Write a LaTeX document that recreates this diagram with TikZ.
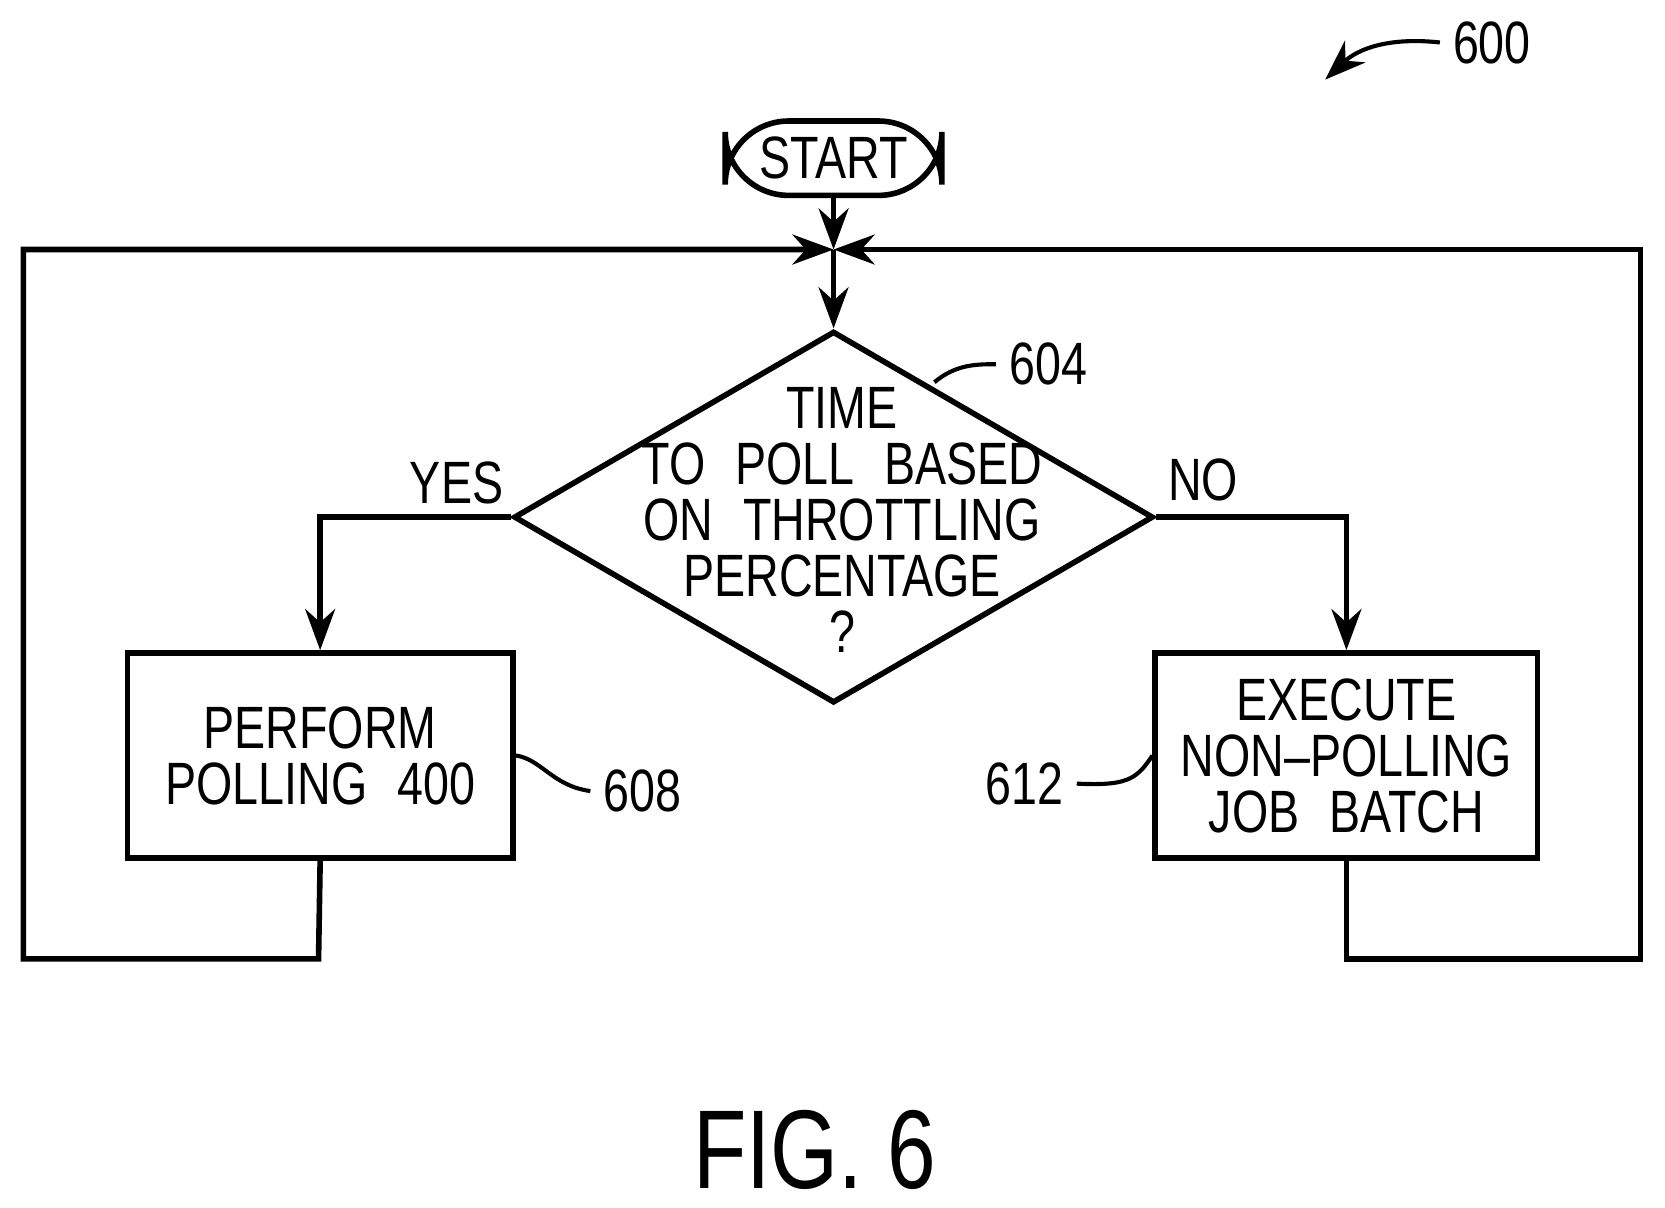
\documentclass[tikz,border=0pt]{standalone}
\usepackage{fontspec}
\setmainfont{Liberation Sans}[FakeStretch=0.78]
\usetikzlibrary{shapes.geometric,arrows.meta}
\begin{document}
\begin{tikzpicture}[x=0.01cm,y=-0.01cm]
\tikzstyle{term} = [rectangle, rounded corners=17pt, minimum width=20.4mm, minimum height=7mm, draw=black, line width=1.5pt, font=\fontsize{16}{18}\selectfont]
\tikzstyle{decide} = [diamond, minimum width=60.2mm, minimum height=35mm, inner sep=0pt, draw=black, line width=1.5pt]
\tikzstyle{proc} = [rectangle, minimum height=19.3mm, draw=black, line width=1.5pt, align=center, font=\fontsize{16}{15}\selectfont]
\tikzstyle{lbl} = [font=\fontsize{16}{18}\selectfont]
\tikzstyle{arrow} = [line width=1.5pt, -{Stealth[length=11pt,width=8pt]}]
\tikzstyle{lead} = [line width=1.1pt]

    \useasboundingbox (0,0) rectangle (1568,1137);

    \node (start) at (785,149) [term] {START};
    \coordinate (join) at (785,235);
    \node (poll) at (785,487) [decide] {};
    \node (pollt) at (793,490) [align=center, font=\fontsize{16}{15}\selectfont] {TIME\\TO\enspace POLL\enspace BASED\\ON\enspace THROTTLING\\PERCENTAGE\\?};
    \node (perform) at (301.5,711.5) [proc, minimum width=36.3mm] {PERFORM\\POLLING\enspace 400};
    \node (exec) at (1268,711.5) [proc, minimum width=36mm] {EXECUTE\\NON--POLLING\\JOB\enspace BATCH};

    \node (yes) at (430,455) [lbl] {YES};
    \node (no) at (1133,452) [lbl] {NO};
    \node (n604) at (987,343) [lbl] {604};
    \node (n608) at (605,745) [lbl] {608};
    \node (n612) at (965,738) [lbl] {612};
    \node (n600) at (1405,40) [lbl] {600};
    \node (fig) at (767,1083) [font=\fontsize{30}{32}\selectfont] {FIG. 6};

    \draw [arrow] (start) -- (join);
    \draw [arrow] (join) -- (poll.north);
    \draw [arrow] (poll.west) -| (perform.north);
    \draw [arrow] (poll.east) -| (exec.north);
    \draw [arrow] (perform.south) -- (300,903) -- (22,903) -- (22,235) -- (join);
    \draw [arrow] (exec.south) -- (1268,903) -- (1545,903) -- (1545,235) -- (join);

    \draw [lead] (880,360) .. controls (900,343) and (920,343) .. (n604.west);
    \draw [lead] (perform.east) .. controls (510,715) and (520,740) .. (n608.west);
    \draw [lead] (n612.east) .. controls (1060,740) and (1070,735) .. (exec.west);
    \draw [lead, -{Stealth[length=11pt,width=8pt]}] (n600.west) .. controls (1310,35) and (1280,45) .. (1248,75);
\end{tikzpicture}
\end{document}
